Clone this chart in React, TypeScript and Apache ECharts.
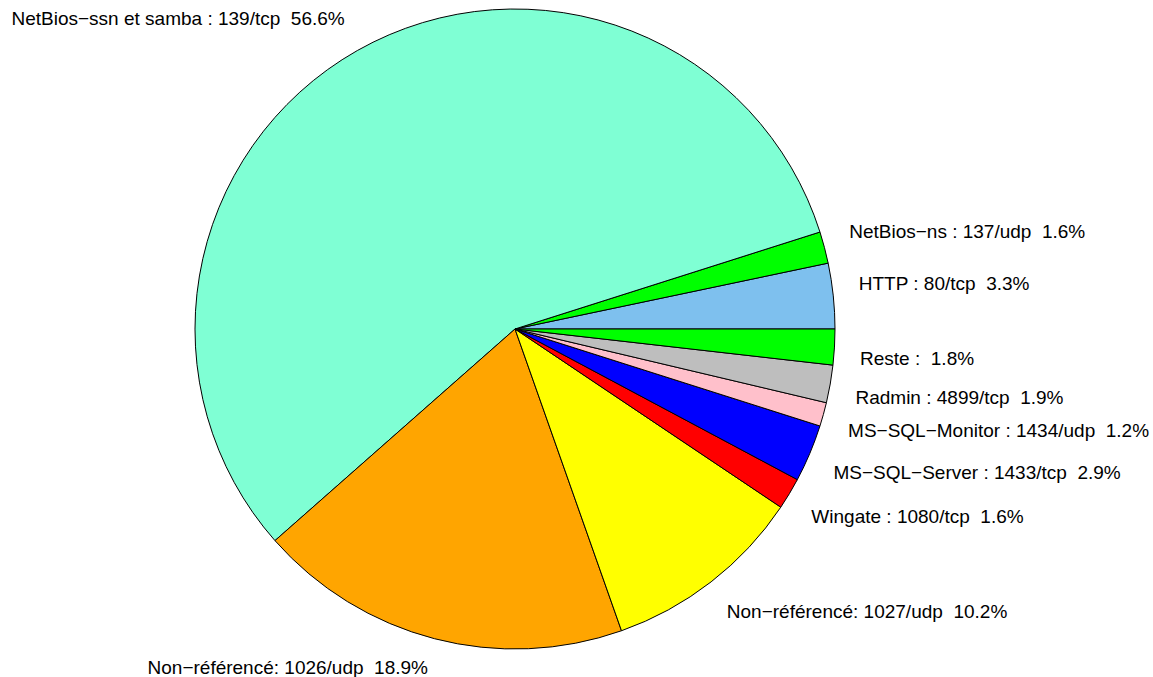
import React, { useEffect, useRef } from "react";
import * as echarts from "echarts";

const categories = [
  "HTTP : 80/tcp",
  "NetBios−ns : 137/udp",
  "NetBios−ssn et samba : 139/tcp",
  "Non−référencé: 1026/udp",
  "Non−référencé: 1027/udp",
  "Wingate : 1080/tcp",
  "MS−SQL−Server : 1433/tcp",
  "MS−SQL−Monitor : 1434/udp",
  "Radmin : 4899/tcp",
  "Reste :",
];
const shares = [3.3, 1.6, 56.6, 18.9, 10.2, 1.6, 2.9, 1.2, 1.9, 1.8];
const sliceColors = [
  "#7EC0EE",
  "#00FF00",
  "#7FFFD4",
  "#FFA500",
  "#FFFF00",
  "#FF0000",
  "#0000FF",
  "#FFC0CB",
  "#BEBEBE",
  "#00FF00",
];

const W = 1153;
const H = 677;
const CX = 515;
const CY = 329;
const R = 320;
const LABEL_R = R * 1.08;

export default function App() {
  const ref = useRef<HTMLDivElement>(null);
  useEffect(() => {
    if (!ref.current) return;
    const chart = echarts.init(ref.current, null, { renderer: "svg" });
    const total = shares.reduce((a, b) => a + b, 0);
    const midAngle = (i: number) => {
      let cum = 0;
      for (let k = 0; k < i; k++) cum += shares[k];
      return ((cum + shares[i] / 2) / total) * Math.PI * 2;
    };
    chart.setOption({
      animation: false,
      backgroundColor: "#ffffff",
      series: [
        {
          type: "pie",
          center: [CX, CY],
          radius: [0, R],
          startAngle: 0,
          clockwise: false,
          avoidLabelOverlap: false,
          silent: true,
          itemStyle: { borderColor: "#000", borderWidth: 1 },
          label: {
            show: true,
            position: "outside",
            color: "#000",
            fontFamily: "Liberation Sans, Arial, sans-serif",
            fontSize: 19,
            formatter: (p: any) => `${p.name}  ${p.value}%`,
          },
          labelLine: { show: false },
          labelLayout: (params: any) => {
            const a = midAngle(params.dataIndex);
            const c = Math.cos(a);
            const s = Math.sin(a);
            const h = params.labelRect ? params.labelRect.height : 22;
            let y = CY - LABEL_R * s;
            if (s < 0) y = Math.min(y, H - h);
            else y = Math.max(y, h);
            return {
              x: CX + LABEL_R * c,
              y,
              align: c >= 0 ? "left" : "right",
              verticalAlign: s >= 0 ? "bottom" : "top",
            };
          },
          data: categories.map((name, i) => ({
            name,
            value: shares[i],
            itemStyle: { color: sliceColors[i] },
          })),
        },
      ],
    });
    return () => chart.dispose();
  }, []);
  return (
    <div
      ref={ref}
      style={{ position: "fixed", left: 0, top: 0, width: W, height: H, background: "#fff" }}
    />
  );
}
